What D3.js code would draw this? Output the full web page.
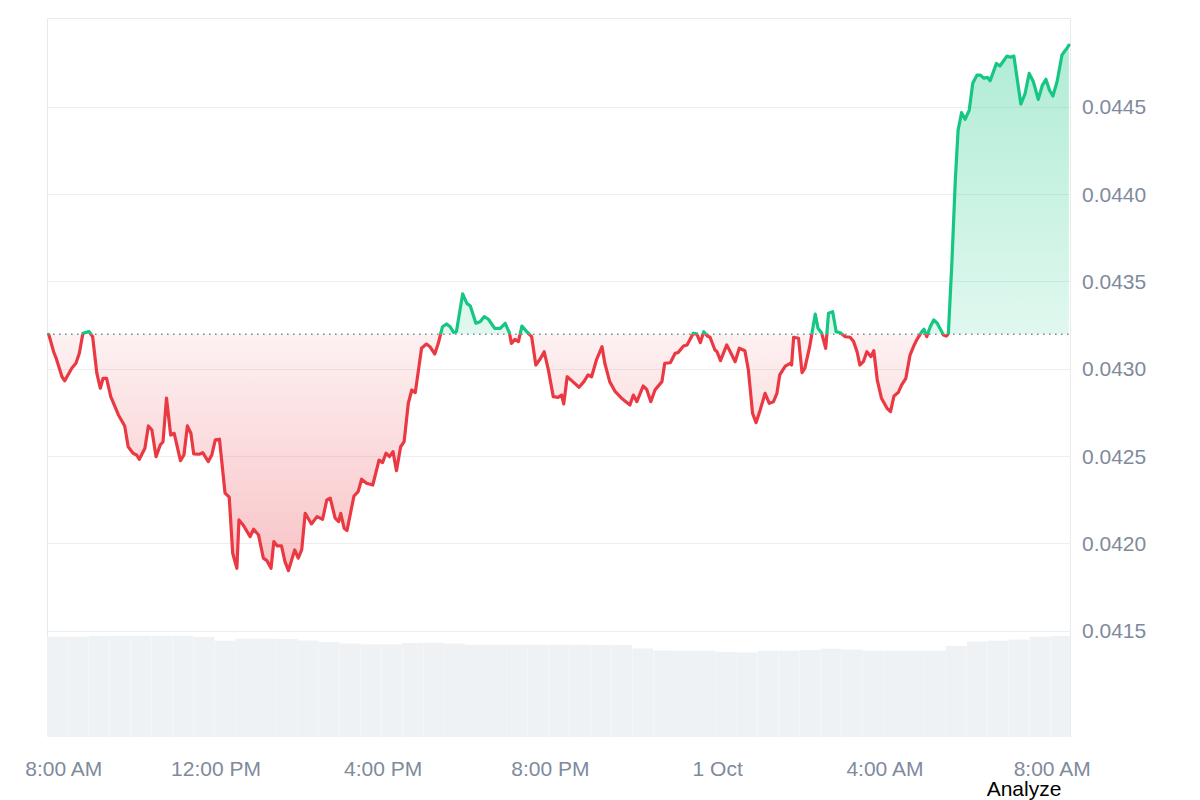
<!DOCTYPE html>
<html>
<head>
<meta charset="utf-8">
<script src="https://cdn.jsdelivr.net/npm/d3@7"></script>
<style>
  body { margin: 0; background: #fff; }
  svg { display: block; font-family: "Liberation Sans", Arial, sans-serif; }
</style>
</head>
<body>
<svg id="chart" width="1200" height="800"></svg>
<script>
// price series: [minutes after 30 Sep 08:00, price]
const priceSeries = [
  [0,0.043197],[7,0.043097],[11,0.043056],[19,0.042954],[23,0.042931],[33,0.043002],[39,0.043031],[44,0.043090],
  [49,0.043203],[58,0.043212],[63,0.043183],[69,0.042974],[74,0.042888],[78,0.042945],[83,0.042945],[89,0.042840],
  [100,0.042735],[109,0.042672],[114,0.042553],[121,0.042516],[126,0.042506],[130,0.042481],[138,0.042544],[143,0.042672],
  [148,0.042649],[154,0.042496],[160,0.042563],[164,0.042582],[169,0.042831],[175,0.042620],[180,0.042630],[189,0.042473],
  [194,0.042506],[199,0.042672],[204,0.042630],[208,0.042512],[216,0.042510],[221,0.042519],[229,0.042468],[234,0.042506],
  [239,0.042592],[245,0.042596],[253,0.042287],[259,0.042264],[264,0.041943],[270,0.041857],[273,0.042134],[279,0.042105],
  [289,0.042038],[294,0.042081],[301,0.042048],[308,0.041915],[313,0.041901],[319,0.041857],[323,0.042010],[328,0.041985],
  [334,0.041985],[339,0.041895],[344,0.041844],[353,0.041962],[358,0.041915],[363,0.041962],[368,0.042172],[377,0.042111],
  [385,0.042153],[393,0.042138],[399,0.042248],[404,0.042258],[411,0.042144],[416,0.042124],[419,0.042172],[424,0.042086],
  [428,0.042073],[438,0.042271],[444,0.042296],[449,0.042367],[456,0.042344],[465,0.042334],[474,0.042477],[479,0.042462],
  [484,0.042516],[489,0.042496],[494,0.042525],[499,0.042416],[505,0.042553],[510,0.042582],[516,0.042802],[521,0.042878],
  [526,0.042863],[535,0.043117],[542,0.043141],[547,0.043126],[554,0.043084],[559,0.043145],[565,0.043240],[571,0.043256],
  [576,0.043240],[581,0.043208],[585,0.043212],[594,0.043428],[600,0.043374],[605,0.043359],[613,0.043260],[619,0.043269],
  [625,0.043298],[631,0.043283],[640,0.043231],[648,0.043231],[655,0.043260],[661,0.043206],[664,0.043145],[669,0.043168],
  [674,0.043155],[679,0.043244],[686,0.043212],[693,0.043183],[699,0.043021],[705,0.043054],[711,0.043097],[717,0.042993],
  [724,0.042840],[731,0.042836],[736,0.042849],[739,0.042798],[744,0.042954],[752,0.042926],[761,0.042894],[768,0.042926],
  [774,0.042964],[779,0.042954],[786,0.043050],[794,0.043126],[798,0.043031],[805,0.042926],[813,0.042868],[822,0.042831],
  [834,0.042792],[839,0.042849],[844,0.042811],[853,0.042901],[858,0.042882],[864,0.042811],[870,0.042878],[880,0.042926],
  [884,0.043031],[892,0.043034],[899,0.043088],[903,0.043092],[911,0.043130],[916,0.043136],[925,0.043203],[930,0.043199],
  [935,0.043149],[940,0.043212],[945,0.043187],[949,0.043180],[956,0.043107],[959,0.043097],[964,0.043046],[973,0.043136],
  [978,0.043097],[985,0.043040],[991,0.043117],[999,0.043103],[1004,0.042993],[1010,0.042745],[1015,0.042691],[1021,0.042764],
  [1028,0.042859],[1034,0.042802],[1040,0.042811],[1045,0.042859],[1049,0.042964],[1057,0.043015],[1064,0.043031],[1066,0.043021],
  [1069,0.043180],[1076,0.043174],[1081,0.042977],[1085,0.043002],[1092,0.043126],[1100,0.043313],[1104,0.043231],[1109,0.043206],
  [1115,0.043117],[1119,0.043317],[1125,0.043326],[1130,0.043212],[1136,0.043206],[1143,0.043183],[1150,0.043180],[1155,0.043155],
  [1160,0.043097],[1164,0.043021],[1169,0.043040],[1174,0.043097],[1180,0.043069],[1184,0.043103],[1189,0.042935],[1195,0.042831],
  [1203,0.042773],[1208,0.042754],[1213,0.042844],[1219,0.042863],[1224,0.042907],[1230,0.042945],[1236,0.043078],[1242,0.043136],
  [1246,0.043168],[1253,0.043212],[1256,0.043226],[1260,0.043183],[1265,0.043240],[1270,0.043279],[1275,0.043260],[1284,0.043193],
  [1288,0.043187],[1291,0.043199],[1296,0.043603],[1301,0.044080],[1305,0.044367],[1310,0.044466],[1315,0.044428],[1321,0.044481],
  [1326,0.044634],[1332,0.044681],[1337,0.044681],[1342,0.044663],[1347,0.044668],[1351,0.044649],[1360,0.044748],[1365,0.044733],
  [1375,0.044790],[1380,0.044783],[1385,0.044790],[1390,0.044653],[1395,0.044515],[1401,0.044573],[1407,0.044691],[1413,0.044643],
  [1420,0.044542],[1426,0.044624],[1431,0.044657],[1436,0.044596],[1441,0.044561],[1447,0.044643],[1454,0.044796],[1462,0.044840],
  [1464,0.044853]
];

// volume per 30-minute slot (relative units)
const volumes = [
  100.3,100.3,101,101.3,101.3,101.3,101.3,100,96.3,98.3,98.3,98,96.5,95,93.5,92.7,92.7,94,94.3,93.5,
  92.3,92.3,92.3,92.3,92.3,92.3,92,92,88.5,86.5,86.3,86.3,85,84.5,86.3,86.3,87,88.3,87.5,86.3,
  86.3,86.3,86.3,91,95.5,96.3,97.5,100.3,101
];

const yTicks = [0.0415, 0.0420, 0.0425, 0.0430, 0.0435, 0.0440, 0.0445];
const basePrice = 0.043197;

const startTime = new Date(2024, 8, 30, 8, 0);
const addMin = (m) => new Date(startTime.getTime() + m * 60000);

const data = priceSeries.map(([m, p]) => ({ t: addMin(m), p }));

const svg = d3.select("#chart");
const plotLeft = 47, plotRight = 1071, plotTop = 18, plotBottom = 737;

const x = d3.scaleTime()
  .domain([addMin(-2.5), addMin(1467)])
  .range([plotLeft, plotRight]);
const y = d3.scaleLinear()
  .domain([0.040891, 0.045008])
  .range([plotBottom, plotTop]);
const vy = d3.scaleLinear().domain([0, 120]).range([plotBottom, plotBottom - 120]);

const yBase = y(basePrice);

// gradients
const defs = svg.append("defs");
const gGreen = defs.append("linearGradient")
  .attr("id", "gradGreen").attr("gradientUnits", "userSpaceOnUse")
  .attr("x1", 0).attr("x2", 0)
  .attr("y1", y(d3.max(data, (d) => d.p))).attr("y2", yBase);
gGreen.append("stop").attr("offset", 0).attr("stop-color", "#16c784").attr("stop-opacity", 0.34);
gGreen.append("stop").attr("offset", 1).attr("stop-color", "#16c784").attr("stop-opacity", 0.13);

const gRed = defs.append("linearGradient")
  .attr("id", "gradRed").attr("gradientUnits", "userSpaceOnUse")
  .attr("x1", 0).attr("x2", 0)
  .attr("y1", yBase).attr("y2", y(d3.min(data, (d) => d.p)));
gRed.append("stop").attr("offset", 0).attr("stop-color", "#ea3943").attr("stop-opacity", 0.07);
gRed.append("stop").attr("offset", 1).attr("stop-color", "#ea3943").attr("stop-opacity", 0.3);

defs.append("clipPath").attr("id", "clipAbove")
  .append("rect").attr("x", plotLeft).attr("y", 0).attr("width", plotRight - plotLeft).attr("height", yBase);
defs.append("clipPath").attr("id", "clipBelow")
  .append("rect").attr("x", plotLeft).attr("y", yBase).attr("width", plotRight - plotLeft).attr("height", plotBottom - yBase);

// grid lines
svg.append("g")
  .selectAll("line")
  .data(yTicks)
  .join("line")
  .attr("x1", plotLeft).attr("x2", plotRight)
  .attr("y1", (d) => Math.round(y(d)) + 0.5).attr("y2", (d) => Math.round(y(d)) + 0.5)
  .attr("stroke", "#eceff2");

// frame
const frame = svg.append("g").attr("stroke", "#e8ebee").attr("fill", "none");
frame.append("line").attr("x1", plotLeft).attr("x2", plotRight).attr("y1", plotTop + 0.5).attr("y2", plotTop + 0.5);
frame.append("line").attr("x1", plotLeft + 0.5).attr("x2", plotLeft + 0.5).attr("y1", plotTop).attr("y2", plotBottom);
frame.append("line").attr("x1", plotRight - 0.5).attr("x2", plotRight - 0.5).attr("y1", plotTop).attr("y2", plotBottom);

// volume bars
svg.append("g")
  .selectAll("rect")
  .data(volumes)
  .join("rect")
  .attr("x", (d, i) => x(addMin(-2.5 + i * 30)))
  .attr("width", (d, i) => Math.max(0, Math.min(x(addMin(-2.5 + (i + 1) * 30)), plotRight - 1) - x(addMin(-2.5 + i * 30)) - 0.15))
  .attr("y", (d) => vy(d))
  .attr("height", (d) => plotBottom - vy(d))
  .attr("fill", "#eff2f5");

// areas
const area = d3.area()
  .x((d) => x(d.t))
  .y0(yBase)
  .y1((d) => y(d.p));
const line = d3.line()
  .x((d) => x(d.t))
  .y((d) => y(d.p));

svg.append("path").datum(data)
  .attr("d", area).attr("fill", "url(#gradGreen)").attr("clip-path", "url(#clipAbove)");
svg.append("path").datum(data)
  .attr("d", area).attr("fill", "url(#gradRed)").attr("clip-path", "url(#clipBelow)");

// baseline (open price)
svg.append("line")
  .attr("x1", plotLeft).attr("x2", x(data[data.length - 1].t))
  .attr("y1", yBase).attr("y2", yBase)
  .attr("stroke", "#808a9d")
  .attr("stroke-width", 1.6)
  .attr("stroke-dasharray", "1.6,4.4");

// price line
svg.append("path").datum(data)
  .attr("d", line).attr("fill", "none").attr("stroke", "#16c784")
  .attr("stroke-width", 3.2).attr("stroke-linejoin", "round").attr("stroke-linecap", "round")
  .attr("clip-path", "url(#clipAbove)");
svg.append("path").datum(data)
  .attr("d", line).attr("fill", "none").attr("stroke", "#ea3943")
  .attr("stroke-width", 3.2).attr("stroke-linejoin", "round").attr("stroke-linecap", "round")
  .attr("clip-path", "url(#clipBelow)");

// y axis labels (right)
svg.append("g")
  .selectAll("text")
  .data(yTicks)
  .join("text")
  .attr("x", 1082)
  .attr("y", (d) => y(d) + 7.5)
  .attr("font-size", 21)
  .attr("fill", "#808a9d")
  .text((d) => d.toFixed(4));

// x axis labels
const fmtHour = d3.timeFormat("%-I:%M %p");
const fmtDay = d3.timeFormat("%-d %b");
const xTicks = x.ticks(d3.timeHour.every(4));
svg.append("g")
  .selectAll("text")
  .data(xTicks)
  .join("text")
  .attr("x", (d) => x(d))
  .attr("dx", (d, i) => (i === 0 ? 15 : 0))
  .attr("y", 776)
  .attr("text-anchor", "middle")
  .attr("font-size", 21)
  .attr("fill", "#808a9d")
  .text((d) => (d.getHours() === 0 ? fmtDay(d) : fmtHour(d)));

svg.append("text")
  .attr("x", 1024)
  .attr("y", 796)
  .attr("text-anchor", "middle")
  .attr("font-size", 21)
  .attr("fill", "#000")
  .text("Analyze");
</script>
</body>
</html>
